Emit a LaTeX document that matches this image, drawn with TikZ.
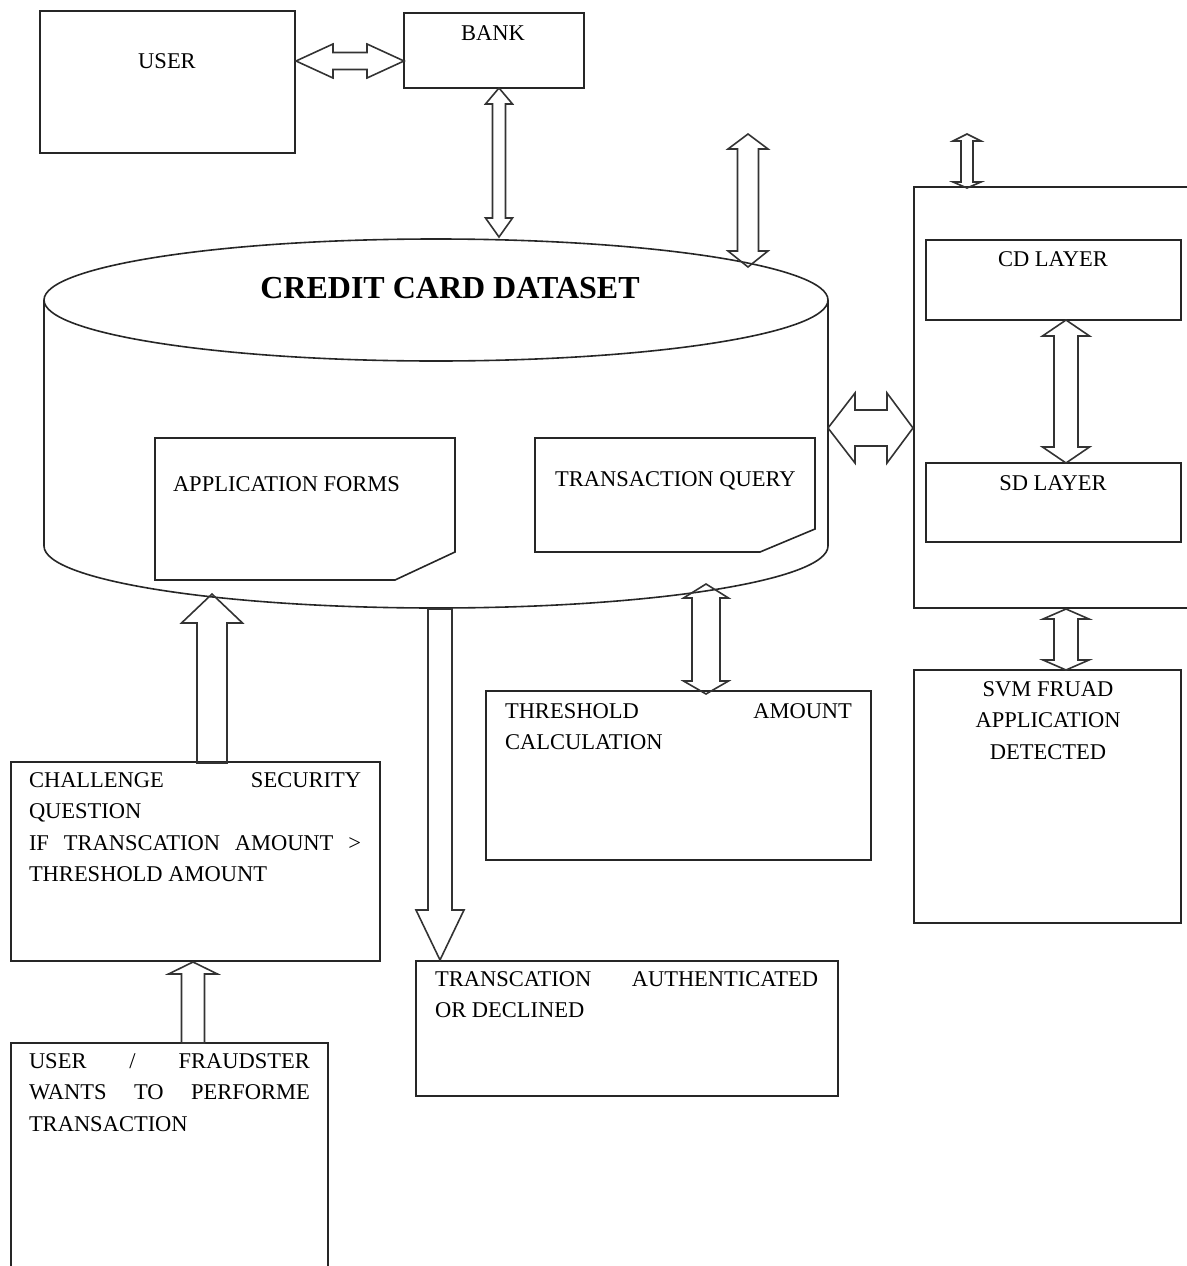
\documentclass[tikz,border=0pt]{standalone}
\usepackage{fontspec}
\setmainfont{Liberation Serif}
\usetikzlibrary{calc}
\tikzset{
 box/.style={draw=black!85, line width=1.6pt, inner sep=0pt, outer sep=0pt},
 hole/.style={inner sep=0pt, outer sep=0pt},
 edge/.style={draw=black!85, line width=1.6pt},
 blk/.style={draw=black!80, line width=1.6pt, line join=miter},
 txt/.style={inner sep=0pt, outer sep=0pt, font=\fontsize{22.5}{31.5}\selectfont},
 ttl/.style={inner sep=0pt, outer sep=0pt, font=\fontsize{32}{36}\selectfont\bfseries},
}
% double-headed block arrow: from, to, shaft half width, head half width, head length at from, head length at to
\newcommand\dblarrow[6]{\draw[blk] (#1) -- ($(#1)!#5!(#2)!#4!90:(#2)$) -- ($(#1)!#5!(#2)!#3!90:(#2)$) -- ($(#2)!#6!(#1)!#3!-90:(#1)$) -- ($(#2)!#6!(#1)!#4!-90:(#1)$) -- (#2) -- ($(#2)!#6!(#1)!#4!90:(#1)$) -- ($(#2)!#6!(#1)!#3!90:(#1)$) -- ($(#1)!#5!(#2)!#3!-90:(#2)$) -- ($(#1)!#5!(#2)!#4!-90:(#2)$) -- cycle;}
% single-headed block arrow: from (flat), to (tip), shaft half width, head half width, head length
\newcommand\sglarrow[5]{\draw[blk] ($(#1)!#3!90:(#2)$) -- ($(#2)!#5!(#1)!#3!-90:(#1)$) -- ($(#2)!#5!(#1)!#4!-90:(#1)$) -- (#2) -- ($(#2)!#5!(#1)!#4!90:(#1)$) -- ($(#2)!#5!(#1)!#3!90:(#1)$) -- ($(#1)!#3!-90:(#2)$) -- cycle;}
\begin{document}
\begin{tikzpicture}[x=1pt,y=-1pt]
\useasboundingbox (0,0) rectangle (1186,1266);

% boxes
\node[box, anchor=north west, minimum width=255pt, minimum height=142pt] (user) at (40,11) {};
\node[txt, anchor=base] (usert) at (167,68) {USER};
\node[box, anchor=north west, minimum width=180pt, minimum height=75pt] (bank) at (404,13) {};
\node[txt, anchor=base] (bankt) at (493,40) {BANK};

% cylinder
\coordinate (cyltop) at (436,300);
\coordinate (cylbot) at (436,546);
\draw[edge] (cyltop) ellipse [x radius=392pt, y radius=61pt];
\draw[edge] ($(cyltop)+(-392pt,0)$) -- ($(cylbot)+(-392pt,0)$) arc[start angle=180, end angle=360, x radius=392pt, y radius=62pt] -- ($(cyltop)+(392pt,0)$);
\node[ttl, anchor=base] (cylt) at (450,298) {CREDIT CARD DATASET};

% documents
\node[hole, anchor=north west, minimum width=300pt, minimum height=142pt] (appf) at (155,438) {};
\draw[edge] (appf.north west) -- (appf.north east) -- ([yshift=28pt]appf.south east) -- ([xshift=-60pt]appf.south east) -- (appf.south west) -- cycle;
\node[txt, anchor=base west] (appft) at (173,491) {APPLICATION FORMS};
\node[hole, anchor=north west, minimum width=280pt, minimum height=114pt] (trq) at (535,438) {};
\draw[edge] (trq.north west) -- (trq.north east) -- ([yshift=23pt]trq.south east) -- ([xshift=-55pt]trq.south east) -- (trq.south west) -- cycle;
\node[txt, anchor=base west] (trqt) at (555,486) {TRANSACTION QUERY};

% right panel
\node[hole, anchor=north west, minimum width=280pt, minimum height=421pt] (panel) at (914,187) {};
\draw[edge] (panel.north east) -- (panel.north west) -- (panel.south west) -- (panel.south east);
\node[box, anchor=north west, minimum width=255pt, minimum height=80pt] (cd) at (926,240) {};
\node[txt, anchor=base] (cdt) at (1053,266) {CD LAYER};
\node[box, anchor=north west, minimum width=255pt, minimum height=79pt] (sd) at (926,463) {};
\node[txt, anchor=base] (sdt) at (1053,490) {SD LAYER};
\node[box, anchor=north west, minimum width=267pt, minimum height=253pt] (svm) at (914,670) {};
\node[txt, anchor=base] (svmt) at (1048,696) {\parbox[t]{200pt}{\centering SVM FRUAD\\APPLICATION\\DETECTED}};

% lower boxes
\node[box, anchor=north west, minimum width=385pt, minimum height=169pt] (thr) at (486,691) {};
\node[txt, anchor=base west] (thrt) at (505,718) {\parbox[t]{347pt}{THRESHOLD\hfill AMOUNT\\CALCULATION}};
\node[box, anchor=north west, minimum width=422pt, minimum height=135pt] (auth) at (416,961) {};
\node[txt, anchor=base west] (autht) at (435,986) {\parbox[t]{383pt}{TRANSCATION\hfill AUTHENTICATED\\OR DECLINED}};
\node[box, anchor=north west, minimum width=369pt, minimum height=199pt] (chal) at (11,762) {};
\node[txt, anchor=base west] (chalt) at (29,787) {\parbox[t]{332pt}{CHALLENGE\hfill SECURITY\\QUESTION\\IF\hfill TRANSCATION\hfill AMOUNT\hfill >\\THRESHOLD AMOUNT}};
\node[hole, anchor=north west, minimum width=317pt, minimum height=230pt] (fraud) at (11,1043) {};
\draw[edge] (fraud.south west) -- (fraud.north west) -- (fraud.north east) -- (fraud.south east);
\node[txt, anchor=base west] (fraudt) at (29,1068) {\parbox[t]{281pt}{USER\hfill /\hfill FRAUDSTER\\WANTS\hfill TO\hfill PERFORME\\TRANSACTION}};

% arrow end points
\coordinate (a1) at (296,61);   \coordinate (b1) at (404,61);
\coordinate (a2) at (499,88);   \coordinate (b2) at (499,237);
\coordinate (a3) at (748,134);  \coordinate (b3) at (748,267);
\coordinate (a4) at (967,134);  \coordinate (b4) at (967,188);
\coordinate (a5) at (828,428);  \coordinate (b5) at (913,428);
\coordinate (a6) at (1066,320); \coordinate (b6) at (1066,463);
\coordinate (a7) at (1066,609); \coordinate (b7) at (1066,670);
\coordinate (a8) at (706,584);  \coordinate (b8) at (706,694);
\coordinate (a9) at (440,609);  \coordinate (b9) at (440,960);
\coordinate (a10) at (212,763); \coordinate (b10) at (212,594);
\coordinate (a11) at (193,1043);\coordinate (b11) at (193,962);

\dblarrow{a1}{b1}{8.5pt}{17pt}{37pt}{37pt}
\dblarrow{a2}{b2}{6.5pt}{13.5pt}{16pt}{19pt}
\dblarrow{a3}{b3}{10.5pt}{20pt}{15pt}{16pt}
\dblarrow{a4}{b4}{6pt}{14pt}{7pt}{6pt}
\dblarrow{a5}{b5}{18pt}{35pt}{27pt}{26pt}
\dblarrow{a6}{b6}{12pt}{23.5pt}{16pt}{16pt}
\dblarrow{a7}{b7}{12pt}{23pt}{10pt}{10pt}
\dblarrow{a8}{b8}{14pt}{22.5pt}{14pt}{13pt}
\sglarrow{a9}{b9}{12pt}{24pt}{50pt}
\sglarrow{a10}{b10}{15pt}{30.5pt}{29pt}
\sglarrow{a11}{b11}{11.5pt}{24.5pt}{12pt}
\end{tikzpicture}
\end{document}
